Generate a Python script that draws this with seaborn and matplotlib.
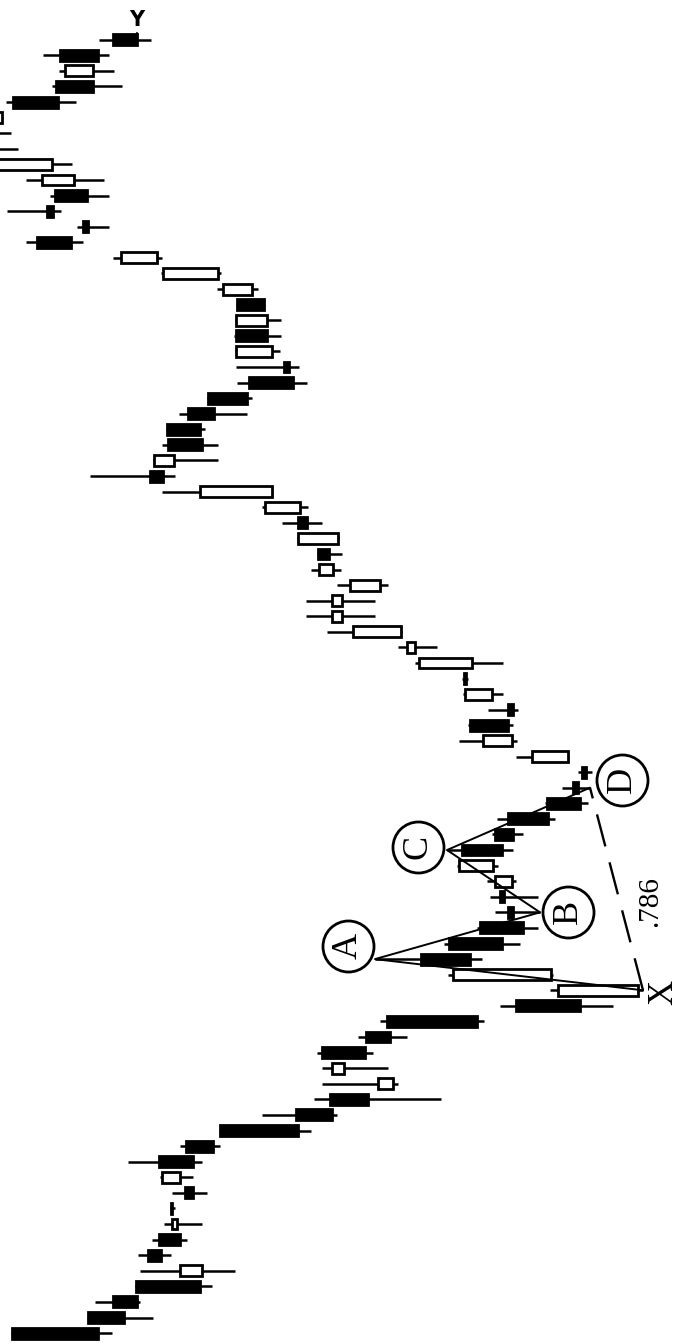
import numpy as np
import matplotlib
matplotlib.use("Agg")
import matplotlib.pyplot as plt
import matplotlib.transforms as mtransforms
import seaborn as sns

# candles in time order (oldest first); chart is shown turned on its side,
# time running up the page and price growing to the left
opens = [688, 612, 587, 564, 498, 552, 541, 523, 528.5, 515, 520, 541, 514, 480,
         404, 370, 307, 356, 378, 334, 313, 184, 62, 149, 279, 251, 220, 192, 200,
         188, 207, 238, 205, 192, 153, 127, 118, 132, 188, 230, 192, 208, 236, 228,
         285, 299, 358, 358, 320, 367, 382, 362, 402, 400, 428, 550, 526, 532, 533,
         512, 492, 451, 416, 428, 464, 433, 463, 448, 482, 543, 663, 617, 653, 645,
         626, 648, 740, 735, 698, 687, 644, 607, 640, 587]
highs = [689, 613, 605, 565, 560, 562, 548, 536, 530, 528, 540, 572, 520, 481,
         438, 386, 378, 378, 383, 342, 320, 200, 150, 252, 325, 256, 223, 205, 210,
         213, 243, 253, 208, 203, 155, 138, 122, 184, 241, 232, 212, 237, 238, 285,
         302, 373, 394, 394, 363, 389, 383, 403, 418, 438, 538, 610, 547, 538, 534,
         521, 493, 463, 464, 465, 466, 465, 464, 483, 539, 587, 674, 623, 693, 650,
         674, 730, 750, 745, 730, 694, 648, 641, 657, 601]
lows = [588, 547, 560, 488, 465, 529, 513, 498, 525, 493, 507, 498, 480, 389,
        363, 259, 302, 312, 327, 293, 216, 87, 57, 147, 218, 180, 162, 160, 162,
        184, 202, 187, 177, 145, 112, 110, 108, 131, 183, 187, 182, 197, 232, 197,
        263, 298, 325, 325, 312, 359, 358, 361, 378, 392, 427, 525, 482, 482, 495,
        453, 448, 393, 401, 420, 419, 419, 435, 442, 479, 538, 617, 591, 639, 591,
        596, 628, 682, 689, 697, 624, 578, 586, 591, 549]
closes = [602, 576, 563, 500, 520, 539, 520, 528, 527.5, 507, 538, 507, 487, 402,
          368, 332, 322, 368, 335, 310, 223, 120, 142, 247, 230, 198, 177, 187, 196,
          205, 241, 198, 187, 152, 120, 122, 114, 168, 217, 192, 187, 235, 234, 281,
          293, 347, 368, 368, 350, 381, 371, 402, 393, 435, 500, 537, 546, 498, 500,
          486, 453, 407, 411, 464, 433, 464, 436, 477, 537, 579, 629, 612, 647, 613,
          658, 715, 703, 703, 720, 642, 607, 635, 602, 563]

# harmonic pattern pivots: label, bar index, which extreme
pivot_labels = ["X", "A", "B", "C", "D"]
pivot_bars = [22, 24, 27, 31, 35]
pivot_side = ["low", "high", "low", "high", "low"]
ratio_label = ".786"
end_label = "Y"

sns.set_theme(style="white")
plt.rcParams["font.family"] = ["Liberation Serif", "DejaVu Serif"]

o = np.array(opens)
h = np.array(highs)
l = np.array(lows)
c = np.array(closes)
t = np.arange(len(o))

fig = plt.figure(figsize=(6.8, 13.44), dpi=100)
ax = fig.add_axes([0, 0, 1, 1])

# wicks then bodies (hollow = rising, filled = falling)
ax.hlines(t, l, h, color="black", lw=1.8, zorder=2)
rising = c >= o
ax.barh(t, np.abs(c - o), left=np.minimum(o, c), height=0.7,
        color=np.where(rising, "white", "black"), edgecolor="black",
        linewidth=2.0, zorder=3)

pp = [l[i] if s == "low" else h[i] for i, s in zip(pivot_bars, pivot_side)]

# X-A-B-C-D legs
ax.plot(pp, pivot_bars, color="black", lw=1.4, zorder=4)
# X to D dashed retracement
ax.plot([pp[0], pp[4]], [pivot_bars[0], pivot_bars[4]], color="black",
        lw=1.7, ls=(0, (14, 7)), zorder=4)


def shifted(dx, dy):
    # offset in screen pixels (dy measured downward)
    return mtransforms.offset_copy(ax.transData, fig=fig, x=dx, y=-dy, units="dots")


circle_offsets = {"A": (-27, -13), "B": (28, 0), "C": (-29, -3), "D": (32, -8)}
for lab, price, bar in zip(pivot_labels, pp, pivot_bars):
    if lab == "X":
        ax.text(price, bar, lab, transform=shifted(21, 2), rotation=90,
                ha="center", va="center", fontsize=25, color="black", zorder=7)
        continue
    dx, dy = circle_offsets[lab]
    tr = shifted(dx, dy)
    ax.scatter([price], [bar], s=1350, facecolor="white", edgecolor="black",
               linewidth=2, transform=tr, zorder=6)
    ax.text(price, bar, lab, transform=tr, rotation=90, ha="center",
            va="center", fontsize=26, color="black", zorder=7)

mid_p = (pp[0] + pp[4]) / 2
mid_t = (pivot_bars[0] + pivot_bars[4]) / 2
ax.text(mid_p, mid_t, ratio_label, transform=shifted(34, 13), rotation=90,
        ha="center", va="center", fontsize=21, color="black", zorder=7)

# end point marker on the last candle
ax.annotate(end_label, xy=(c[-1], t[-1]), xytext=(0, 20), textcoords="offset pixels",
            ha="center", va="center", fontsize=15, fontweight="bold",
            family="DejaVu Sans", color="black", zorder=1,
            arrowprops=dict(arrowstyle="-", lw=1.5, color="black", shrinkA=0, shrinkB=0))

ax.set_xlim(700, 20)
ax.set_ylim(-0.7, 85.55)
ax.set_axis_off()
fig.patch.set_facecolor("white")

fig.savefig("out.png", dpi=100, facecolor="white")
